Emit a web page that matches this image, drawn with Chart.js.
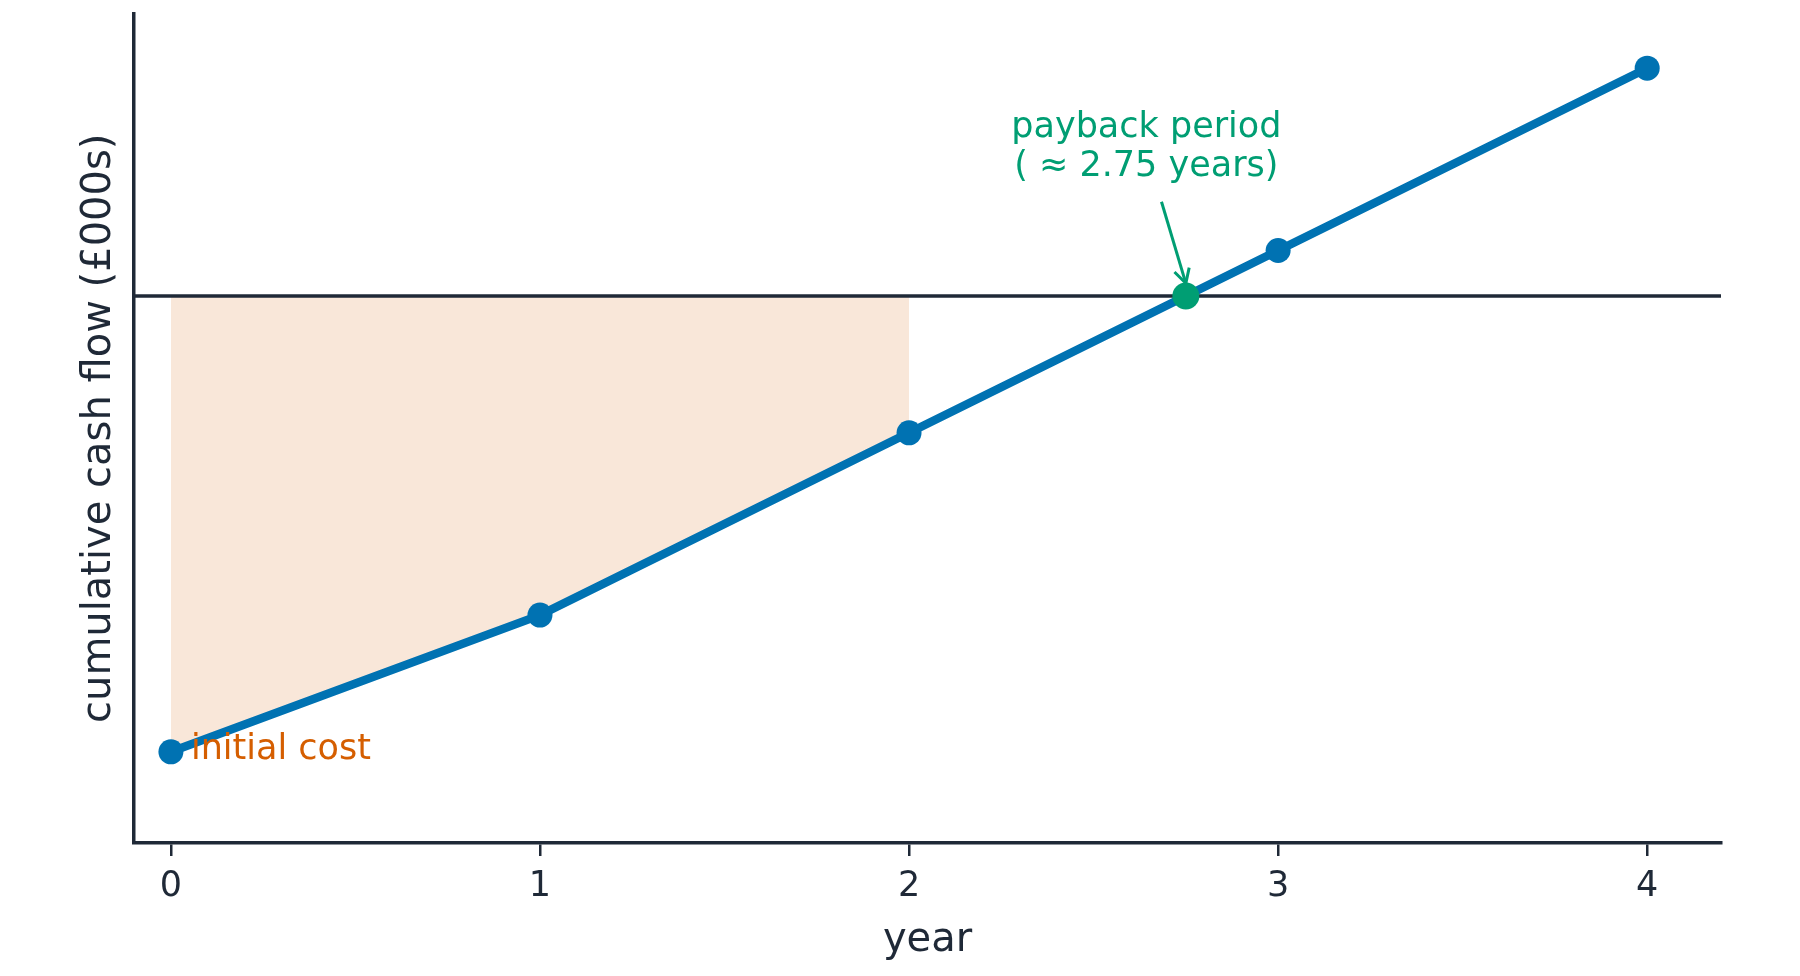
<!DOCTYPE html>
<html>
<head>
<meta charset="utf-8">
<script src="https://cdn.jsdelivr.net/npm/chart.js@4.4.0/dist/chart.umd.min.js"></script>
<style>
html,body{margin:0;padding:0;background:#fff;}
#wrap{width:1800px;height:976px;}
</style>
</head>
<body>
<div id="wrap"><canvas id="c" width="1800" height="976"></canvas></div>
<script>
// ---- data ----
const years = [0, 1, 2, 3, 4];
const cashFlow = [-100, -70, -30, 10, 50];
const xTickValues = [0, 1, 2, 3, 4];
const paybackYear = 2.75;
const shadedYears = [0, 1, 2];
const xLimits = [-0.1, 4.2];
const yLimits = [-120, 62];

// ---- styles ----
const DARK = '#1f2937';
const BLUE = '#0072B2';
const GREEN = '#009E73';
const ORANGE = '#D55E00';
const FONT = "'DejaVu Sans', sans-serif";

const linePts = years.map((x, i) => ({x: x, y: cashFlow[i]}));
const shadePts = shadedYears.map(x => ({x: x, y: cashFlow[years.indexOf(x)]}));
const zeroPts = xLimits.map(x => ({x: x, y: 0}));

const annot = {
  id: 'annot',
  afterDatasetsDraw(chart) {
    const {ctx, scales: {x, y}} = chart;
    ctx.save();
    // initial cost label
    ctx.fillStyle = ORANGE;
    ctx.font = "35px " + FONT;
    ctx.textAlign = 'left';
    ctx.textBaseline = 'middle';
    ctx.fillText('initial cost', x.getPixelForValue(years[0]) + 20, y.getPixelForValue(cashFlow[0]) - 2);
    // payback text
    ctx.fillStyle = GREEN;
    ctx.textAlign = 'center';
    ctx.textBaseline = 'alphabetic';
    const tx = x.getPixelForValue(2.643);
    ctx.fillText('payback period', tx, y.getPixelForValue(34.96));
    ctx.fillText('( \u2248 2.75 years)', tx, y.getPixelForValue(26.3));
    // arrow
    const x0 = x.getPixelForValue(2.684), y0 = y.getPixelForValue(20.7);
    const x1 = x.getPixelForValue(paybackYear), y1 = y.getPixelForValue(2.8);
    ctx.strokeStyle = GREEN;
    ctx.lineWidth = 3;
    ctx.lineCap = 'butt';
    ctx.beginPath();
    ctx.moveTo(x0, y0); ctx.lineTo(x1, y1); ctx.stroke();
    const ang = Math.atan2(y1 - y0, x1 - x0);
    const hl = 16, ha = 0.5;
    ctx.beginPath();
    ctx.moveTo(x1 - hl * Math.cos(ang - ha), y1 - hl * Math.sin(ang - ha));
    ctx.lineTo(x1, y1);
    ctx.lineTo(x1 - hl * Math.cos(ang + ha), y1 - hl * Math.sin(ang + ha));
    ctx.stroke();
    ctx.restore();
  }
};

new Chart(document.getElementById('c'), {
  type: 'line',
  data: {
    datasets: [
      {
        data: [{x: paybackYear, y: 0}],
        showLine: false,
        pointRadius: 13.5,
        pointBackgroundColor: GREEN,
        pointBorderWidth: 0,
        order: 0
      },
      {
        data: linePts,
        borderColor: BLUE,
        borderWidth: 8.5,
        pointRadius: 12.5,
        pointBackgroundColor: BLUE,
        pointBorderWidth: 0,
        tension: 0,
        fill: false,
        order: 1
      },
      {
        data: zeroPts,
        borderColor: DARK,
        borderWidth: 3.5,
        pointRadius: 0,
        fill: false,
        order: 2
      },
      {
        data: shadePts,
        borderWidth: 0,
        borderColor: 'rgba(0,0,0,0)',
        backgroundColor: 'rgba(213,94,0,0.15)',
        pointRadius: 0,
        fill: {value: 0},
        order: 3
      }
    ]
  },
  options: {
    responsive: false,
    devicePixelRatio: 1,
    animation: false,
    events: [],
    layout: {padding: {top: 13, right: 79, left: 0, bottom: 0}},
    plugins: {legend: {display: false}, tooltip: {enabled: false}},
    scales: {
      x: {
        type: 'linear',
        min: xLimits[0],
        max: xLimits[1],
        afterBuildTicks: s => { s.ticks = xTickValues.map(v => ({value: v})); },
        afterFit: s => { s.height = 133; },
        ticks: {color: DARK, font: {family: FONT, size: 35}, padding: 10, maxRotation: 0},
        grid: {drawOnChartArea: false, drawTicks: true, tickLength: 13, color: DARK, lineWidth: 2.5},
        border: {display: true, color: DARK, width: 3.5},
        title: {display: true, text: 'year', color: DARK, font: {family: FONT, size: 40}, padding: {top: 0, bottom: 11}}
      },
      y: {
        type: 'linear',
        min: yLimits[0],
        max: yLimits[1],
        afterFit: s => { s.width = 134; },
        ticks: {display: false},
        grid: {display: false},
        border: {display: true, color: DARK, width: 3.5},
        title: {display: true, text: 'cumulative cash flow (\u00a3000s)', color: DARK, font: {family: FONT, size: 40}, padding: {top: 76, bottom: 0}}
      }
    }
  },
  plugins: [annot]
});
</script>
</body>
</html>
